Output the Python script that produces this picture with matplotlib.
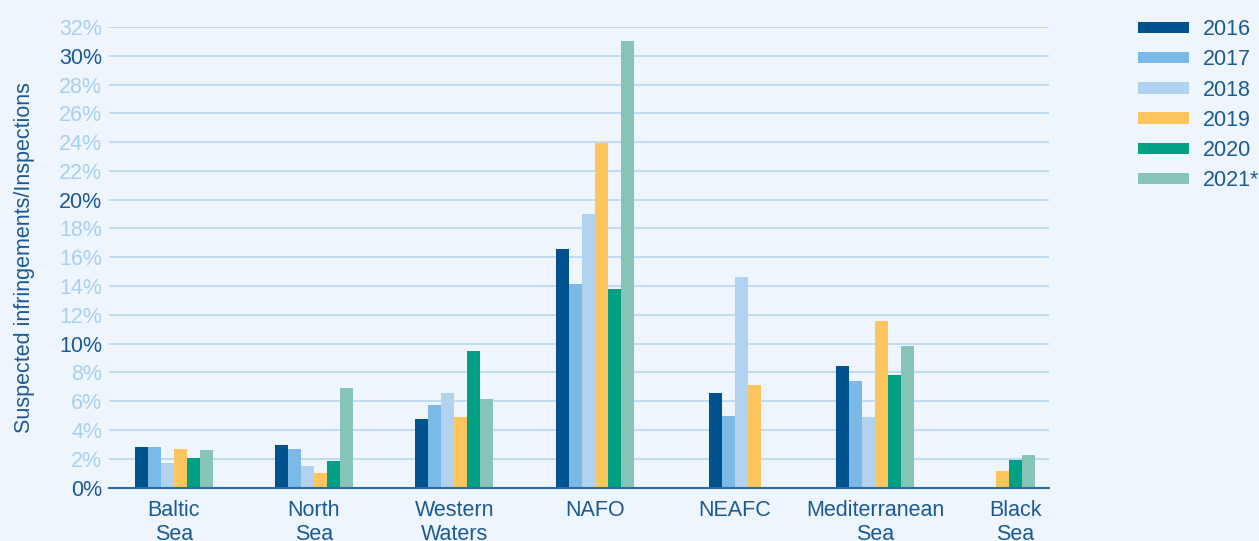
import numpy as np
import matplotlib
matplotlib.use('Agg')
import matplotlib.pyplot as plt
from matplotlib.patches import Patch

plt.rcParams['font.family'] = ['Liberation Sans', 'DejaVu Sans']

### Data (share of inspections with suspected infringements, %)
regions = ['Baltic\nSea', 'North\nSea', 'Western\nWaters', 'NAFO', 'NEAFC',
  'Mediterranean\nSea', 'Black\nSea']
years = ['2016', '2017', '2018', '2019', '2020', '2021*']
v2016 = [2.8, 2.95, 4.75, 16.6, 6.6, 8.45, None]
v2017 = [2.8, 2.68, 5.75, 14.15, 5.0, 7.4, None]
v2018 = [1.7, 1.5, 6.55, 19.0, 14.65, 4.9, None]
v2019 = [2.68, 1.0, 4.9, 23.95, 7.15, 11.6, 1.16]
v2020 = [2.05, 1.85, 9.5, 13.8, None, 7.85, 1.92]
v2021 = [2.6, 6.9, 6.15, 31.05, None, 9.8, 2.27]
series = [v2016, v2017, v2018, v2019, v2020, v2021]
yticks = np.arange(0, 34, 2)

colors = ['#00528F', '#7BB9E6', '#B1D3EF', '#FDC55E', '#00A085', '#86C4B7']
bg = '#EEF5FC'
txt = '#1B5A95'
light = '#A9CFEF'
grid = '#B9D7F0'

fig = plt.figure(figsize=(12.59, 5.41), dpi=100, facecolor=bg)
ax = fig.add_axes([109/1259, 1 - 487.5/541, (1049 - 109)/1259, 460.5/541])
ax.set_facecolor(bg)

width = 0.0927
### bars are packed and centred on each region (missing years skipped)
for ci in range(len(regions)):
  present = [(yi, s[ci]) for yi, s in enumerate(series) if s[ci] is not None]
  n = len(present)
  for k, (yi, val) in enumerate(present):
    xpos = ci + (k - (n - 1) / 2.0) * width
    ax.bar(xpos, val, width, color=colors[yi], zorder=3, linewidth=0)

ax.set_xlim(-0.461, 6.239)
ax.set_ylim(0, 32)
ax.set_xticks(range(len(regions)))
ax.set_xticklabels(regions, fontsize=15.5, color=txt, linespacing=1.2)
ax.tick_params(axis='x', length=0, pad=9)
ax.set_yticks(yticks)
ax.set_yticklabels(['%d%%' % t for t in yticks], fontsize=15.5)
ax.tick_params(axis='y', length=0, pad=5)
for lab, t in zip(ax.get_yticklabels(), yticks):
  lab.set_color(txt if t % 10 == 0 else light)

ax.yaxis.grid(True, color=grid, linewidth=1.2, zorder=0)
for s in ['top', 'right', 'left']:
  ax.spines[s].set_visible(False)
ax.spines['bottom'].set_color('#2E6CA0')
ax.spines['bottom'].set_linewidth(1.5)
ax.spines['bottom'].set_zorder(4)

ax.set_ylabel('Suspected infringements/Inspections', fontsize=15.5, color=txt,
  labelpad=17)

handles = [Patch(facecolor=c, edgecolor='none') for c in colors]
leg = fig.legend(handles, years, loc='upper left',
  bbox_to_anchor=(1138/1259, 1 - 19/541), frameon=False, fontsize=15.5,
  handlelength=2.35, handleheight=0.45, handletextpad=0.65,
  labelspacing=0.43, borderpad=0, borderaxespad=0)
for t in leg.get_texts():
  t.set_color(txt)

plt.savefig('out.png', dpi=100, facecolor=bg)
